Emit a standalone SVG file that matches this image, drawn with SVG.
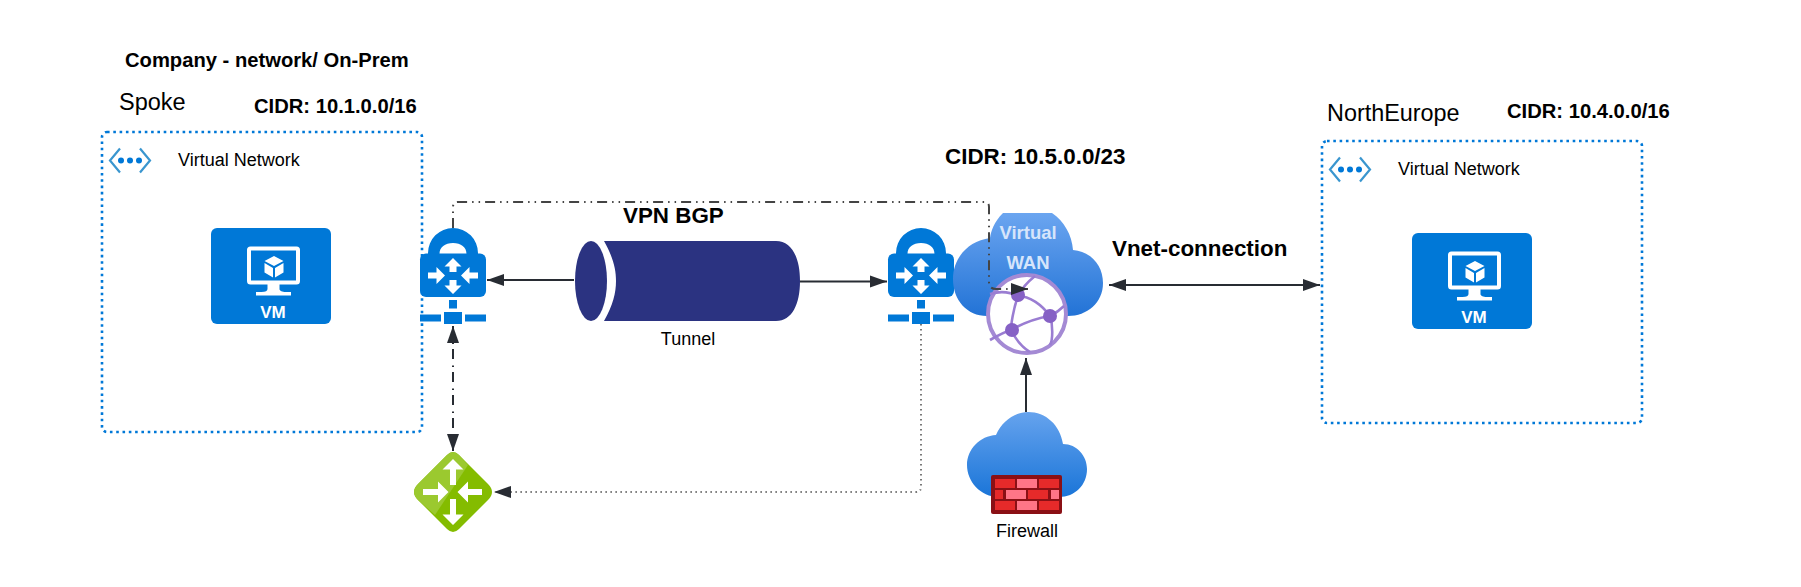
<svg xmlns="http://www.w3.org/2000/svg" width="1801" height="587" viewBox="0 0 1801 587" xmlns:xlink="http://www.w3.org/1999/xlink">
<style>
text{font-family:"Liberation Sans",Arial,sans-serif;fill:#000}
.b{font-weight:700}
.vnet{fill:none;stroke:#0078d7;stroke-width:2.6;stroke-dasharray:2.6 3.7}
.c{fill:none;stroke:#282c33;stroke-width:2}
.ar{fill:#fff}
.wan{fill:#d6e5fb;font-weight:700;font-size:18.500px;text-anchor:middle}
</style>
<defs>
<marker id="a" markerUnits="userSpaceOnUse" markerWidth="19" markerHeight="15" refX="18" refY="7.500" orient="auto-start-reverse"><path d="M18 7.500L1 1.500V13.500Z" fill="#282c33"/></marker>
<linearGradient id="cl" x1="0" y1="0" x2="0" y2="1"><stop offset="0" stop-color="#6ba5f0"/><stop offset="1" stop-color="#2273d6"/></linearGradient>
<linearGradient id="cl2" x1="0" y1="0" x2="0" y2="1"><stop offset="0" stop-color="#66a3ee"/><stop offset="1" stop-color="#1a75d8"/></linearGradient>
<g id="vm">
<rect width="120" height="96" rx="6" fill="#0078d7"/>
<rect x="38" y="20.500" width="49" height="34" rx="1.500" fill="none" stroke="#fff" stroke-width="4"/>
<path d="M56.500 56h12v5c0 2 3 3 6 3h5.500v3.500h-35V64h5.500c4 0 6-1 6-3z" fill="#fff"/>
<path d="M63 28l9.500 5-9.500 5-9.500-5zM53.500 35l8.500 5v9.500l-8.500-5zM72.500 35v9.500l-8.500 5V40z" fill="#fff"/>
<text x="62" y="90" text-anchor="middle" class="b" font-size="17" style="fill:#fff">VM</text>
</g>
<g id="vnicon">
<path d="M12 1.500L2 13.500l10 12M32 1.500l10 12-10 12" fill="none" stroke="#3a96cf" stroke-width="2.200"/>
<circle cx="13" cy="13.500" r="3" fill="#0078d7"/><circle cx="22" cy="13.500" r="3" fill="#0078d7"/><circle cx="31" cy="13.500" r="3" fill="#0078d7"/>
</g>
<g id="lock">
<path d="M8 27V25A25 25 0 0 1 58 25V27H46.500V26C46.500 19 41 15 33 15S19.500 19 19.500 26V27Z" fill="#0078d7"/>
<rect x="0" y="25.500" width="66" height="43.500" rx="6" fill="#0078d7"/>
<path d="M33 30l8.500 8.500h-5V44h-7v-5.500h-5z" class="ar"/>
<path d="M33 66l8.500-8.500h-5V52h-7v5.500h-5z" class="ar"/>
<path d="M25 47.500l-8.500-8.500v5.500H8v6h8.500V56z" class="ar"/>
<path d="M41 47.500l8.500-8.500v5.500H58v6h-8.500V56z" class="ar"/>
<rect x="29" y="72" width="8" height="8.500" fill="#0078d7"/>
<rect x="24" y="84" width="18" height="12" fill="#0078d7"/>
<rect x="0" y="86.500" width="21" height="7" fill="#0078d7"/>
<rect x="45" y="86.500" width="21" height="7" fill="#0078d7"/>
</g>
</defs>

<g id="spoke-vnet">
<rect class="vnet" x="102" y="132" width="320" height="300" rx="5"/>
<use xlink:href="#vnicon" href="#vnicon" x="108" y="147"/>
<text x="178" y="166" font-size="18">Virtual Network</text>
</g>
<g id="spoke-vm"><use href="#vm" xlink:href="#vm" x="211" y="228"/></g>

<g id="ne-vnet">
<rect class="vnet" x="1322" y="141" width="320" height="282" rx="5"/>
<use xlink:href="#vnicon" href="#vnicon" x="1328" y="156"/>
<text x="1398" y="175" font-size="18">Virtual Network</text>
</g>
<g id="ne-vm"><use href="#vm" xlink:href="#vm" x="1412" y="233"/></g>

<g id="lock-left"><use href="#lock" xlink:href="#lock" x="420" y="228"/></g>
<g id="lock-right"><use href="#lock" xlink:href="#lock" x="888" y="228"/></g>

<g id="tunnel">
<path d="M604 241H776C792 241 800 258 800 281S792 321 776 321H604C613 305 616 293 616 281S613 257 604 241Z" fill="#2b3381"/>
<ellipse cx="591" cy="281" rx="16" ry="40" fill="#2b3381"/>
<text x="688" y="345" font-size="18" text-anchor="middle">Tunnel</text>
</g>

<g id="virtual-wan">
<path d="M1003 213H1052C1064 221 1072 235 1073 250C1092 252 1103 266 1103 283C1103 303 1087 316 1068 316H987C967 316 953 300 953 279C953 258 968 241 990 238C991 231 994 222 1003 213Z" fill="url(#cl)"/>
<text x="1028" y="239" class="wan">Virtual</text>
<text x="1028" y="269" class="wan">WAN</text>
<circle cx="1027" cy="314" r="39" fill="#fff" stroke="#a48ad4" stroke-width="4"/>
<g fill="none" stroke="#9a7dd2" stroke-width="2.600">
<path d="M990 294C1000 291 1010 292 1018 296C1013 310 1011 325 1011 330M1018 296C1030 296 1042 305 1050 316M1011 330C1025 322 1038 318 1050 316M1050 316C1053 325 1053 340 1050 345M1011 330C1016 340 1022 347 1030 352M990 340C997 336 1004 332 1011 330M1018 296C1022 288 1030 280 1035 276M1050 316C1056 313 1060 310 1064 306"/>
</g>
<circle cx="1018" cy="295" r="7" fill="#8661c5"/>
<circle cx="1050" cy="316" r="7" fill="#8661c5"/>
<circle cx="1012" cy="330" r="7" fill="#8661c5"/>
</g>

<g id="firewall">
<path d="M999 497C980 497 967 481 967 465C967 449 980 436 996 435C1002 421 1015 412 1028 412C1046 412 1060 425 1063 444C1077 444 1087 456 1087 469C1087 485 1075 497 1059 497Z" fill="url(#cl2)"/>
<rect x="991" y="475" width="71" height="39" rx="2" fill="#8a1015"/>
<g fill="#e62a2a">
<rect x="995" y="479" width="20" height="9"/><rect x="1039" y="479" width="20" height="9"/>
<rect x="995" y="490" width="8" height="9"/><rect x="1028" y="490" width="20" height="9"/>
<rect x="995" y="501" width="20" height="9"/><rect x="1039" y="501" width="20" height="9"/>
</g>
<g fill="#ff7587">
<rect x="1017" y="479" width="20" height="9"/>
<rect x="1006" y="490" width="20" height="9"/><rect x="1051" y="490" width="8" height="9"/>
<rect x="1017" y="501" width="20" height="9"/>
</g>
<text x="1027" y="537" font-size="18" text-anchor="middle">Firewall</text>
</g>

<g id="router">
<path d="M459 455L488 484Q496 492 488 500L459 529Q453 535 447 529L418 500Q410 492 418 484L447 455Q453 449 459 455Z" fill="#84bc00"/>
<path d="M447 455L418 484Q410 492 418 500L435 515L468 465L459 455Q453 449 447 455Z" fill="#9bc92f"/>
<path d="M453 459l10.500 10.500h-7.500v15.500h-6v-15.500h-7.500z" class="ar"/>
<path d="M453 525l10.500-10.500h-7.500V499h-6v15.500h-7.500z" class="ar"/>
<path d="M448.500 492l-10.500-10.500v7.500H423v6h15v7.500z" class="ar"/>
<path d="M457.500 492l10.500-10.500v7.500H482v6h-14v7.500z" class="ar"/>
</g>

<g id="connectors">
<path class="c" d="M574 280H487" marker-end="url(#a)"/>
<path class="c" d="M800 281.500H887" marker-end="url(#a)"/>
<path class="c" d="M1109 285H1320" marker-start="url(#a)" marker-end="url(#a)"/>
<path class="c" d="M1026 412V358" marker-end="url(#a)"/>
<path class="c" d="M453 326V451" stroke-width="1.500" stroke-dasharray="10 6.500 1.500 5" marker-start="url(#a)" marker-end="url(#a)"/>
<path class="c" d="M453 228V207Q453 202 458 202H984Q989 202 989 207V282Q989 289 996 289H1028" stroke-width="1" stroke-dasharray="10 5 1.500 5 1.500 5" marker-end="url(#a)" style="stroke:#444"/>
<path class="c" d="M921 324V487Q921 492 916 492H494" stroke-width="1.500" stroke-dasharray="1.500 3.500" marker-end="url(#a)" style="stroke:#777"/>
</g>

<g id="labels">
<text x="125" y="67" font-size="20.200" class="b">Company - network/ On-Prem</text>
<text x="119" y="110" font-size="23.500">Spoke</text>
<text x="254" y="113" font-size="20.200" class="b">CIDR: 10.1.0.0/16</text>
<text x="945" y="164" font-size="22.400" class="b">CIDR: 10.5.0.0/23</text>
<text x="623" y="223" font-size="22.400" class="b">VPN BGP</text>
<text x="1112" y="256" font-size="22.400" class="b">Vnet-connection</text>
<text x="1327" y="121" font-size="23.400">NorthEurope</text>
<text x="1507" y="118" font-size="20.200" class="b">CIDR: 10.4.0.0/16</text>
</g>
</svg>
